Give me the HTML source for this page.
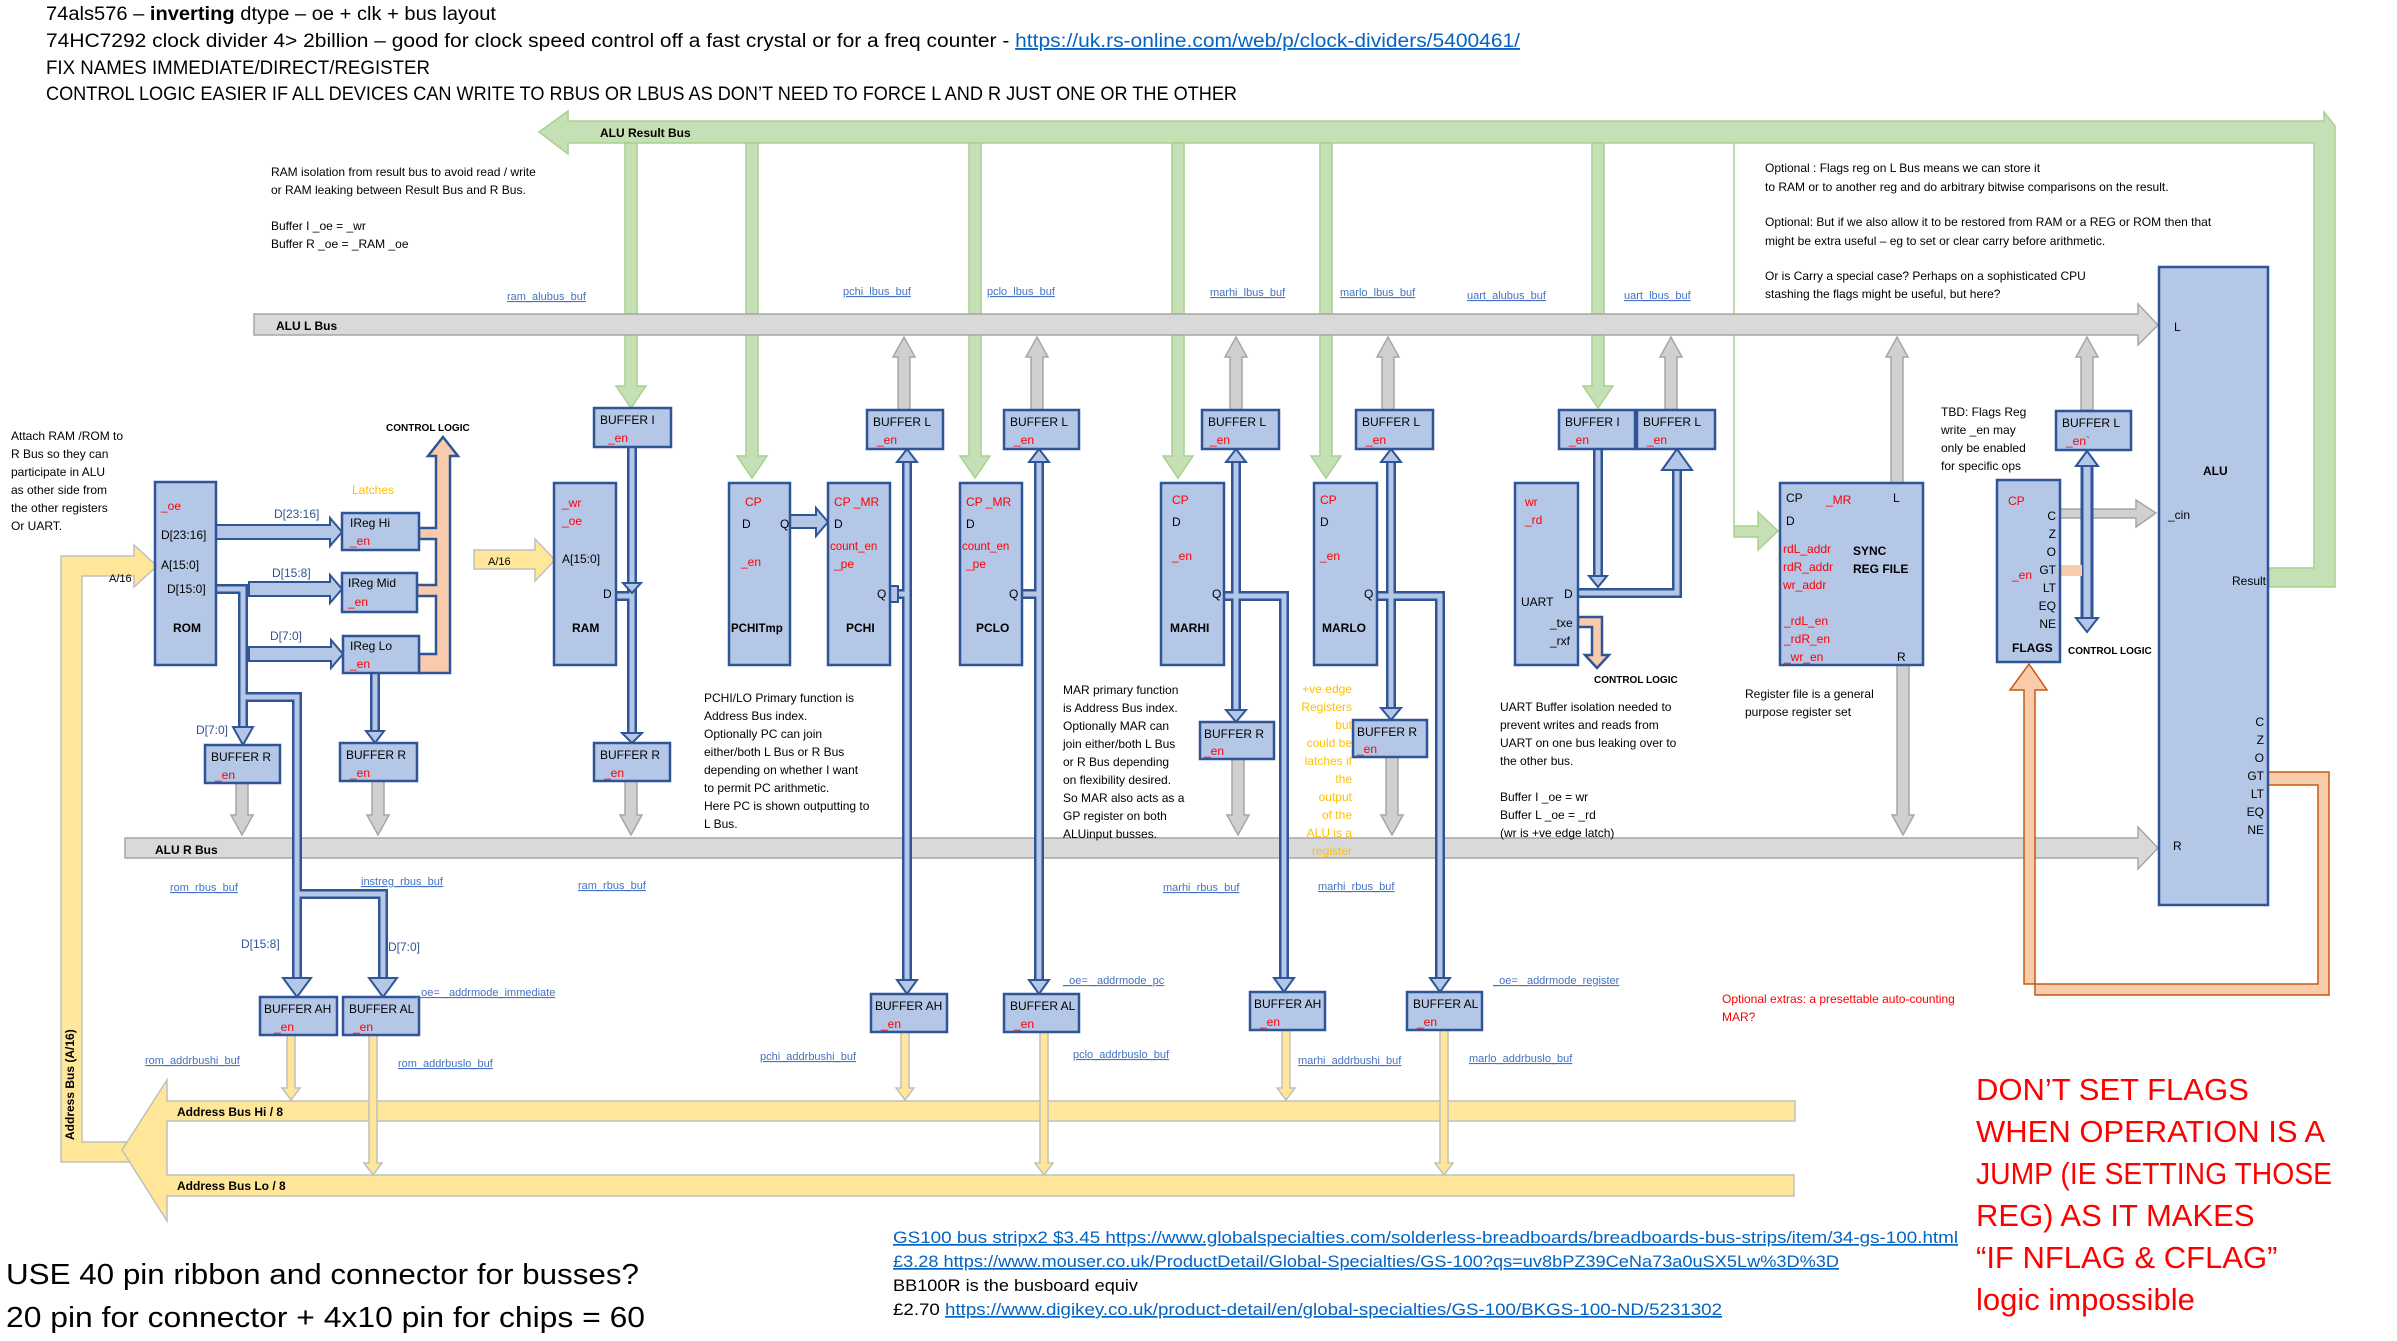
<!DOCTYPE html>
<html><head><meta charset="utf-8"><style>
html,body{margin:0;padding:0;background:#fff}
svg{display:block}
text{font-family:"Liberation Sans",sans-serif;font-size:12px;fill:#000}
.bx{fill:#b4c7e7;stroke:#2f5597;stroke-width:2.5}
.r{fill:#f00}
.b{font-weight:bold}
.lab{fill:#4472c4;font-size:11px;text-decoration:underline}
.gr{fill:#d0d0d0;stroke:#a6a6a6;stroke-width:1.5}
.gn{fill:#c5e0b4;stroke:#a9d18e;stroke-width:1.5}
.yl{fill:#ffe699;stroke:#bfbfbf;stroke-width:1.5}
.bl{fill:#b4c7e7;stroke:#2f5597;stroke-width:2}
.or{fill:#f8cbad;stroke:#2f5597;stroke-width:2.5}
.oo{fill:#f8cbad;stroke:#c55a11;stroke-width:1.5}
.wo{fill:none;stroke:#2f5597;stroke-width:10;stroke-linejoin:miter}
.wi{fill:none;stroke:#b4c7e7;stroke-width:5;stroke-linejoin:miter}
.h{font-size:19px}
.lk{fill:#0563c1;text-decoration:underline}
.ye{fill:#ffc000}
</style></head><body>
<svg width="2397" height="1341" viewBox="0 0 2397 1341" xmlns="http://www.w3.org/2000/svg">
<text class="h" x="46" y="20" textLength="450" lengthAdjust="spacingAndGlyphs">74als576 – <tspan class="b">inverting</tspan> dtype – oe + clk + bus layout</text>
<text class="h" x="46" y="47" textLength="1474" lengthAdjust="spacingAndGlyphs">74HC7292 clock divider 4&gt; 2billion – good for clock speed control off a fast crystal or for a freq counter - <tspan class="lk">https://uk.rs-online.com/web/p/clock-dividers/5400461/</tspan></text>
<text class="h" x="46" y="74" textLength="384" lengthAdjust="spacingAndGlyphs">FIX NAMES IMMEDIATE/DIRECT/REGISTER</text>
<text class="h" x="46" y="100" textLength="1191" lengthAdjust="spacingAndGlyphs">CONTROL LOGIC EASIER IF ALL DEVICES CAN WRITE TO RBUS OR LBUS AS DON’T NEED TO FORCE L AND R JUST ONE OR THE OTHER</text>

<polygon class="gn" points="539,132 568,111 568,121 2324,121 2324,112 2335,126 2335,587 2268,587 2268,568 2314,568 2314,143 568,143 568,154"/>
<text class="b" x="600" y="137" style="font-size:12px">ALU Result Bus</text>
<polygon class="gn" points="625,143 625,386 616,386 631,408 646,386 637,386 637,143"/>
<polygon class="gn" points="746,143 746,456 737,456 752,478 767,456 758,456 758,143"/>
<polygon class="gn" points="969,143 969,456 960,456 975,478 990,456 981,456 981,143"/>
<polygon class="gn" points="1172,143 1172,456 1163,456 1178,478 1193,456 1184,456 1184,143"/>
<polygon class="gn" points="1320,143 1320,456 1311,456 1326,478 1341,456 1332,456 1332,143"/>
<polygon class="gn" points="1592,143 1592,386 1583,386 1598,408 1613,386 1604,386 1604,143"/>
<polygon class="gn" points="1734,143 1734,526 1758,526 1758,512 1778,531 1758,550 1758,537 1746,537 1746,537 1734,537"/>

<polygon class="gr" points="254,314 2138,314 2138,304 2158,325 2138,345 2138,335 254,335" style="fill:#d9d9d9"/>
<text class="b" x="276" y="330" style="font-size:12px">ALU L Bus</text>
<polygon class="gr" points="125,838 2138,838 2138,827 2158,848 2138,869 2138,858 125,858" style="fill:#d9d9d9"/>
<text class="b" x="155" y="854" style="font-size:12px">ALU R Bus</text>

<polygon class="gr" points="898,410 898,357 893,357 904,337 915,357 910,357 910,410"/>
<polygon class="gr" points="1031,410 1031,357 1026,357 1037,337 1048,357 1043,357 1043,410"/>
<polygon class="gr" points="1230,410 1230,357 1225,357 1236,337 1247,357 1242,357 1242,410"/>
<polygon class="gr" points="1382,410 1382,357 1377,357 1388,337 1399,357 1394,357 1394,410"/>
<polygon class="gr" points="1665,410 1665,357 1660,357 1671,337 1682,357 1677,357 1677,410"/>
<polygon class="gr" points="2081,410 2081,357 2076,357 2087,337 2098,357 2093,357 2093,410"/>
<polygon class="gr" points="1891,483 1891,357 1886,357 1897,337 1908,357 1903,357 1903,483"/>
<polygon class="gr" points="236,783 236,815 231,815 242,835 253,815 248,815 248,783"/>
<polygon class="gr" points="372,781 372,815 367,815 378,835 389,815 384,815 384,781"/>
<polygon class="gr" points="625,781 625,815 620,815 631,835 642,815 637,815 637,781"/>
<polygon class="gr" points="1232,759 1232,815 1227,815 1238,835 1249,815 1244,815 1244,759"/>
<polygon class="gr" points="1386,757 1386,815 1381,815 1392,835 1403,815 1398,815 1398,757"/>
<polygon class="gr" points="1897,665 1897,815 1892,815 1903,835 1914,815 1909,815 1909,665"/>
<polygon class="gr" points="2060,509 2136,509 2136,500 2156,513 2136,527 2136,518 2060,518"/>

<polygon class="yl" points="61,1162 61,556 134,556 134,545 157,566 134,587 134,576 82,576 82,1142 150,1142 150,1162"/>
<polygon class="yl" points="122,1150 167,1080 167,1101 1795,1101 1795,1121 167,1121 167,1175 1794,1175 1794,1196 167,1196 167,1221"/>
<text class="b" x="177" y="1116" style="font-size:12px">Address Bus Hi / 8</text>
<text class="b" x="177" y="1190" style="font-size:12px">Address Bus Lo / 8</text>
<text class="b" transform="translate(74,1140) rotate(-90)" style="font-size:12px">Address Bus (A/16)</text>
<text x="109" y="582" style="font-size:11px">A/16</text>
<polygon class="yl" points="474,550 535,550 535,539 555,560 535,581 535,569 474,569"/>
<text x="488" y="565" style="font-size:11px">A/16</text>
<polygon class="yl" points="287,1035 287,1088 282,1088 291,1100 300,1088 295,1088 295,1035"/>
<polygon class="yl" points="369,1035 369,1163 364,1163 373,1175 382,1163 377,1163 377,1035"/>
<polygon class="yl" points="901,1032 901,1088 896,1088 905,1100 914,1088 909,1088 909,1032"/>
<polygon class="yl" points="1040,1032 1040,1163 1035,1163 1044,1175 1053,1163 1048,1163 1048,1032"/>
<polygon class="yl" points="1282,1030 1282,1088 1277,1088 1286,1100 1295,1088 1290,1088 1290,1030"/>
<polygon class="yl" points="1440,1030 1440,1163 1435,1163 1444,1175 1453,1163 1448,1163 1448,1030"/>

<polygon class="oo" points="2268,772 2329,772 2329,995 2035,995 2035,690 2047,690 2029,664 2010,690 2024,690 2024,984 2318,984 2318,785 2268,785"/>

<g>
<path class="wo" d="M632,447 V735 M616,596 H632"/>
<path class="wi" d="M632,447 V735 M616,596 H632"/>
<path class="wo" d="M216,589 H243 V735 M243,697 H297 V985 M297,894 H383 V985 M375,673 V735"/>
<path class="wi" d="M216,589 H243 V735 M243,697 H297 V985 M297,894 H383 V985 M375,673 V735"/>
<path class="wo" d="M890,594 H907 M907,460 V985 M1022,594 H1039 M1039,460 V985"/>
<path class="wi" d="M890,594 H907 M907,460 V985 M1022,594 H1039 M1039,460 V985"/>
<path class="wo" d="M1224,596 H1284 V980 M1236,460 V712"/>
<path class="wi" d="M1224,596 H1284 V980 M1236,460 V712"/>
<path class="wo" d="M1377,596 H1440 V980 M1391,460 V710"/>
<path class="wi" d="M1377,596 H1440 V980 M1391,460 V710"/>
<path class="wo" d="M1598,449 V578 M1578,593 H1677 V468"/>
<path class="wi" d="M1598,449 V578 M1578,593 H1677 V468"/>
<path class="wo" d="M2087,462 V620" style="stroke-width:13"/>
<path class="wi" d="M2087,462 V620" style="stroke-width:7"/>
</g>
<g class="bl">
<polygon points="623,583 641,583 632,593"/>
<polygon points="622,733 642,733 632,743"/>
<polygon points="233,727 253,727 243,745"/>
<polygon points="366,731 384,731 375,743"/>
<polygon points="283,978 311,978 297,997"/>
<polygon points="369,978 397,978 383,997"/>
<polygon points="897,980 917,980 907,994"/>
<polygon points="1029,980 1049,980 1039,994"/>
<polygon points="897,462 917,462 907,449"/>
<polygon points="1029,462 1049,462 1039,449"/>
<polygon points="1226,462 1246,462 1236,449"/>
<polygon points="1381,462 1401,462 1391,449"/>
<polygon points="1226,710 1246,710 1236,722"/>
<polygon points="1381,708 1401,708 1391,720"/>
<polygon points="1274,978 1294,978 1284,992"/>
<polygon points="1430,978 1450,978 1440,992"/>
<polygon points="1589,576 1607,576 1598,587"/>
<polygon points="1662,470 1692,470 1677,449"/>
<polygon points="2076,466 2098,466 2087,451"/>
<polygon points="2076,618 2098,618 2087,632"/>
<polygon points="890,586 898,586 898,602 890,602"/>
<polygon points="216,525 330,525 330,518 342,532 330,546 330,539 216,539"/>
<polygon points="249,582 330,582 330,575 342,589 330,603 330,596 249,596"/>
<polygon points="249,647 331,647 331,640 343,654 331,668 331,661 249,661"/>
<polygon points="790,515 816,515 816,508 828,522 816,536 816,528 790,528"/>
</g>
<polygon class="or" points="419,528 436,528 436,456 428,456 443,437 458,456 450,456 450,673 419,673 419,654 436,654 436,596 417,596 417,585 436,585 436,539 419,539"/>
<polygon class="or" points="1578,617 1602,617 1602,655 1609,655 1597,668 1585,655 1592,655 1592,627 1578,627"/>
<rect class="or" x="2060" y="565" width="22" height="11" style="stroke:none"/>
<text class="b" x="386" y="431" style="font-size:10px">CONTROL LOGIC</text>
<text class="b" x="1594" y="683" style="font-size:10px">CONTROL LOGIC</text>
<text class="b" x="2068" y="654" style="font-size:10px">CONTROL LOGIC</text>
<text class="ye" x="352" y="494" style="font-size:12px">Latches</text>

<rect class="bx" x="155" y="482" width="61" height="183"/>
<text class="r" x="161" y="510">_oe</text><text x="161" y="539">D[23:16]</text><text x="161" y="569">A[15:0]</text><text x="167" y="593">D[15:0]</text><text class="b" x="173" y="632">ROM</text>
<rect class="bx" x="342" y="513" width="77" height="37"/><text x="350" y="527">IReg Hi</text><text class="r" x="350" y="545">_en</text>
<rect class="bx" x="342" y="573" width="75" height="39"/><text x="348" y="587">IReg Mid</text><text class="r" x="348" y="606">_en</text>
<rect class="bx" x="343" y="636" width="76" height="37"/><text x="350" y="650">IReg Lo</text><text class="r" x="350" y="668">_en</text>
<text x="274" y="518" style="fill:#2f5597">D[23:16]</text>
<text x="272" y="577" style="fill:#2f5597">D[15:8]</text>
<text x="270" y="640" style="fill:#2f5597">D[7:0]</text>
<text x="196" y="734" style="fill:#2f5597">D[7:0]</text>
<text x="241" y="948" style="fill:#2f5597">D[15:8]</text>
<text x="388" y="951" style="fill:#2f5597">D[7:0]</text>

<rect class="bx" x="554" y="483" width="62" height="182"/>
<text class="r" x="562" y="507">_wr</text><text class="r" x="562" y="525">_oe</text><text x="562" y="563">A[15:0]</text><text x="603" y="598">D</text><text class="b" x="572" y="632">RAM</text>

<rect class="bx" x="729" y="483" width="61" height="182"/>
<text class="r" x="745" y="506">CP</text><text x="742" y="528">D</text><text x="780" y="528">Q</text><text class="r" x="741" y="566">_en</text><text class="b" x="731" y="632" style="font-size:11.5px">PCHITmp</text>

<rect class="bx" x="828" y="483" width="62" height="182"/>
<text class="r" x="834" y="506">CP  _MR</text><text x="834" y="528">D</text><text class="r" x="830" y="550" style="font-size:11.5px">count_en</text><text class="r" x="834" y="568">_pe</text><text x="877" y="598">Q</text><text class="b" x="846" y="632">PCHI</text>

<rect class="bx" x="960" y="483" width="62" height="182"/>
<text class="r" x="966" y="506">CP  _MR</text><text x="966" y="528">D</text><text class="r" x="962" y="550" style="font-size:11.5px">count_en</text><text class="r" x="966" y="568">_pe</text><text x="1009" y="598">Q</text><text class="b" x="976" y="632">PCLO</text>

<rect class="bx" x="1161" y="483" width="63" height="182"/>
<text class="r" x="1172" y="504">CP</text><text x="1172" y="526">D</text><text class="r" x="1172" y="560">_en</text><text x="1212" y="598">Q</text><text class="b" x="1170" y="632">MARHI</text>

<rect class="bx" x="1314" y="483" width="63" height="182"/>
<text class="r" x="1320" y="504">CP</text><text x="1320" y="526">D</text><text class="r" x="1320" y="560">_en</text><text x="1364" y="598">Q</text><text class="b" x="1322" y="632">MARLO</text>

<rect class="bx" x="1515" y="483" width="63" height="182"/>
<text class="r" x="1525" y="506">wr</text><text class="r" x="1525" y="524">_rd</text><text x="1564" y="598">D</text><text x="1521" y="606">UART</text><text x="1550" y="627">_txe</text><text x="1550" y="645">_rxf</text>

<rect class="bx" x="1780" y="483" width="143" height="182"/>
<text x="1786" y="502">CP</text><text class="r" x="1826" y="504">_MR</text><text x="1893" y="502">L</text><text x="1786" y="525">D</text>
<text class="r" x="1783" y="553">rdL_addr</text><text class="r" x="1783" y="571">rdR_addr</text><text class="r" x="1783" y="589">wr_addr</text>
<text class="b" x="1853" y="555">SYNC</text><text class="b" x="1853" y="573">REG FILE</text>
<text class="r" x="1784" y="625">_rdL_en</text><text class="r" x="1784" y="643">_rdR_en</text><text class="r" x="1784" y="661">_wr_en</text><text x="1897" y="661">R</text>

<rect class="bx" x="1997" y="480" width="63" height="182"/>
<text class="r" x="2008" y="505">CP</text>
<g text-anchor="end"><text x="2056" y="520">C</text><text x="2056" y="538">Z</text><text x="2056" y="556">O</text><text x="2056" y="574">GT</text><text x="2056" y="592">LT</text><text x="2056" y="610">EQ</text><text x="2056" y="628">NE</text></g>
<text class="r" x="2012" y="579">_en</text><text class="b" x="2012" y="652">FLAGS</text>

<rect class="bx" x="2159" y="267" width="109" height="638"/>
<text x="2174" y="331">L</text><text class="b" x="2203" y="475">ALU</text><text x="2168" y="519">_cin</text><text x="2232" y="585">Result</text>
<g text-anchor="end"><text x="2264" y="726">C</text><text x="2264" y="744">Z</text><text x="2264" y="762">O</text><text x="2264" y="780">GT</text><text x="2264" y="798">LT</text><text x="2264" y="816">EQ</text><text x="2264" y="834">NE</text></g>
<text x="2173" y="850">R</text>

<g>
<rect class="bx" x="594" y="408" width="77" height="39"/><text x="600" y="424">BUFFER I</text><text class="r" x="608" y="442">_en</text>
<rect class="bx" x="867" y="410" width="76" height="39"/><text x="873" y="426">BUFFER L</text><text class="r" x="877" y="444">_en</text>
<rect class="bx" x="1004" y="410" width="75" height="39"/><text x="1010" y="426">BUFFER L</text><text class="r" x="1014" y="444">_en</text>
<rect class="bx" x="1202" y="410" width="77" height="39"/><text x="1208" y="426">BUFFER L</text><text class="r" x="1210" y="444">_en</text>
<rect class="bx" x="1356" y="410" width="77" height="39"/><text x="1362" y="426">BUFFER L</text><text class="r" x="1366" y="444">_en</text>
<rect class="bx" x="1559" y="410" width="76" height="39"/><text x="1565" y="426">BUFFER I</text><text class="r" x="1569" y="444">_en</text>
<rect class="bx" x="1637" y="410" width="78" height="39"/><text x="1643" y="426">BUFFER L</text><text class="r" x="1647" y="444">_en</text>
<rect class="bx" x="2056" y="411" width="75" height="39"/><text x="2062" y="427">BUFFER L</text><text class="r" x="2066" y="445">_en`</text>

<rect class="bx" x="205" y="745" width="75" height="38"/><text x="211" y="761">BUFFER R</text><text class="r" x="215" y="779">_en</text>
<rect class="bx" x="340" y="743" width="77" height="38"/><text x="346" y="759">BUFFER R</text><text class="r" x="350" y="777">_en</text>
<rect class="bx" x="594" y="743" width="76" height="38"/><text x="600" y="759">BUFFER R</text><text class="r" x="604" y="777">_en</text>
<rect class="bx" x="1200" y="722" width="74" height="37"/><text x="1204" y="738">BUFFER R</text><text class="r" x="1204" y="755">_en</text>
<rect class="bx" x="1353" y="720" width="74" height="37"/><text x="1357" y="736">BUFFER R</text><text class="r" x="1357" y="753">_en</text>

<rect class="bx" x="260" y="997" width="77" height="38"/><text x="264" y="1013">BUFFER AH</text><text class="r" x="274" y="1031">_en</text>
<rect class="bx" x="343" y="997" width="76" height="38"/><text x="349" y="1013">BUFFER AL</text><text class="r" x="353" y="1031">_en</text>
<rect class="bx" x="871" y="994" width="76" height="38"/><text x="875" y="1010">BUFFER AH</text><text class="r" x="881" y="1028">_en</text>
<rect class="bx" x="1004" y="994" width="75" height="38"/><text x="1010" y="1010">BUFFER AL</text><text class="r" x="1014" y="1028">_en</text>
<rect class="bx" x="1250" y="992" width="75" height="38"/><text x="1254" y="1008">BUFFER AH</text><text class="r" x="1260" y="1026">_en</text>
<rect class="bx" x="1407" y="992" width="75" height="38"/><text x="1413" y="1008">BUFFER AL</text><text class="r" x="1417" y="1026">_en</text>
</g>

<text class="lab" x="507" y="300">ram_alubus_buf</text>
<text class="lab" x="843" y="295">pchi_lbus_buf</text>
<text class="lab" x="987" y="295">pclo_lbus_buf</text>
<text class="lab" x="1210" y="296">marhi_lbus_buf</text>
<text class="lab" x="1340" y="296">marlo_lbus_buf</text>
<text class="lab" x="1467" y="299">uart_alubus_buf</text>
<text class="lab" x="1624" y="299">uart_lbus_buf</text>
<text class="lab" x="170" y="891">rom_rbus_buf</text>
<text class="lab" x="361" y="885">instreg_rbus_buf</text>
<text class="lab" x="578" y="889">ram_rbus_buf</text>
<text class="lab" x="1163" y="891">marhi_rbus_buf</text>
<text class="lab" x="1318" y="890">marhi_rbus_buf</text>
<text class="lab" x="145" y="1064">rom_addrbushi_buf</text>
<text class="lab" x="398" y="1067">rom_addrbuslo_buf</text>
<text class="lab" x="760" y="1060">pchi_addrbushi_buf</text>
<text class="lab" x="1073" y="1058">pclo_addrbuslo_buf</text>
<text class="lab" x="1298" y="1064">marhi_addrbushi_buf</text>
<text class="lab" x="1469" y="1062">marlo_addrbuslo_buf</text>
<text class="lab" x="415" y="996">_oe= _addrmode_immediate</text>
<text class="lab" x="1063" y="984">_oe= _addrmode_pc</text>
<text class="lab" x="1493" y="984">_oe= _addrmode_register</text>

<g style="font-size:12px">
<text x="271" y="176">RAM isolation from result bus to avoid read  / write</text>
<text x="271" y="194">or RAM leaking between Result Bus and R Bus.</text>
<text x="271" y="230">Buffer I _oe = _wr</text>
<text x="271" y="248">Buffer R _oe = _RAM _oe</text>
<text x="11" y="440">Attach RAM /ROM to</text>
<text x="11" y="458">R Bus so they can</text>
<text x="11" y="476">participate in ALU</text>
<text x="11" y="494">as other side from</text>
<text x="11" y="512">the other registers</text>
<text x="11" y="530">Or UART.</text>
<text x="704" y="702">PCHI/LO Primary function is</text>
<text x="704" y="720">Address Bus index.</text>
<text x="704" y="738">Optionally PC can join</text>
<text x="704" y="756">either/both L Bus or R Bus</text>
<text x="704" y="774">depending on whether I want</text>
<text x="704" y="792">to permit PC arithmetic.</text>
<text x="704" y="810">Here PC is shown outputting to</text>
<text x="704" y="828">L Bus.</text>
<text x="1063" y="694">MAR primary function</text>
<text x="1063" y="712">is Address Bus index.</text>
<text x="1063" y="730">Optionally MAR can</text>
<text x="1063" y="748">join either/both L Bus</text>
<text x="1063" y="766">or R Bus depending</text>
<text x="1063" y="784">on flexibility desired.</text>
<text x="1063" y="802">So MAR also acts as a</text>
<text x="1063" y="820">GP register on  both</text>
<text x="1063" y="838">ALUinput busses.</text>
<g text-anchor="end">
<text class="ye" x="1352" y="693">+ve edge</text><text class="ye" x="1352" y="711">Registers</text><text class="ye" x="1352" y="729">but</text><text class="ye" x="1352" y="747">could be</text><text class="ye" x="1352" y="765">latches if</text><text class="ye" x="1352" y="783">the</text><text class="ye" x="1352" y="801">output</text><text class="ye" x="1352" y="819">of the</text><text class="ye" x="1352" y="837">ALU is a</text><text class="ye" x="1352" y="855">register</text>
</g>
<text x="1500" y="711">UART Buffer isolation needed to</text>
<text x="1500" y="729">prevent writes and reads from</text>
<text x="1500" y="747">UART on one bus leaking over to</text>
<text x="1500" y="765">the other bus.</text>
<text x="1500" y="801">Buffer I _oe = wr</text>
<text x="1500" y="819">Buffer L _oe = _rd</text>
<text x="1500" y="837">(wr is +ve edge latch)</text>
<text x="1745" y="698">Register file is a general</text>
<text x="1745" y="716">purpose register set</text>
<text x="1941" y="416">TBD: Flags Reg</text>
<text x="1941" y="434">write _en may</text>
<text x="1941" y="452">only be  enabled</text>
<text x="1941" y="470">for  specific  ops</text>
<text x="1765" y="172">Optional : Flags reg on L Bus means we can store it</text>
<text x="1765" y="191">to RAM or to another reg and do arbitrary bitwise comparisons on the result.</text>
<text x="1765" y="226">Optional: But if we also allow it to be restored from RAM or a REG or ROM then that</text>
<text x="1765" y="245">might be extra useful – eg to set or clear carry before  arithmetic.</text>
<text x="1765" y="280">Or is Carry a special case?  Perhaps on a sophisticated CPU</text>
<text x="1765" y="298">stashing the flags  might be useful, but here?</text>
<text class="r" x="1722" y="1003">Optional extras: a presettable auto-counting</text>
<text class="r" x="1722" y="1021">MAR?</text>
</g>

<text class="r" x="1976" y="1100" style="font-size:31px">DON’T SET FLAGS</text>
<text class="r" x="1976" y="1142" style="font-size:31px">WHEN OPERATION IS A</text>
<text class="r" x="1976" y="1184" style="font-size:31px" textLength="356" lengthAdjust="spacingAndGlyphs">JUMP (IE SETTING THOSE</text>
<text class="r" x="1976" y="1226" style="font-size:31px">REG) AS IT MAKES</text>
<text class="r" x="1976" y="1268" style="font-size:31px">“IF NFLAG &amp; CFLAG”</text>
<text class="r" x="1976" y="1310" style="font-size:31px">logic impossible</text>

<text x="6" y="1284" style="font-size:29px" textLength="633" lengthAdjust="spacingAndGlyphs">USE 40 pin ribbon and connector for busses?</text>
<text x="6" y="1327" style="font-size:29px" textLength="639" lengthAdjust="spacingAndGlyphs">20 pin for connector + 4x10 pin for chips = 60</text>
<text class="lk" x="893" y="1243" style="font-size:17px" textLength="1065" lengthAdjust="spacingAndGlyphs">GS100 bus stripx2   $3.45 https://www.globalspecialties.com/solderless-breadboards/breadboards-bus-strips/item/34-gs-100.html</text>
<text class="lk" x="893" y="1267" style="font-size:17px" textLength="946" lengthAdjust="spacingAndGlyphs">£3.28 https://www.mouser.co.uk/ProductDetail/Global-Specialties/GS-100?qs=uv8bPZ39CeNa73a0uSX5Lw%3D%3D</text>
<text x="893" y="1291" style="font-size:17px" textLength="245" lengthAdjust="spacingAndGlyphs">BB100R is the busboard equiv</text>
<text x="893" y="1315" style="font-size:17px" textLength="829" lengthAdjust="spacingAndGlyphs">£2.70 <tspan class="lk">https://www.digikey.co.uk/product-detail/en/global-specialties/GS-100/BKGS-100-ND/5231302</tspan></text>
</svg>
</body></html>
